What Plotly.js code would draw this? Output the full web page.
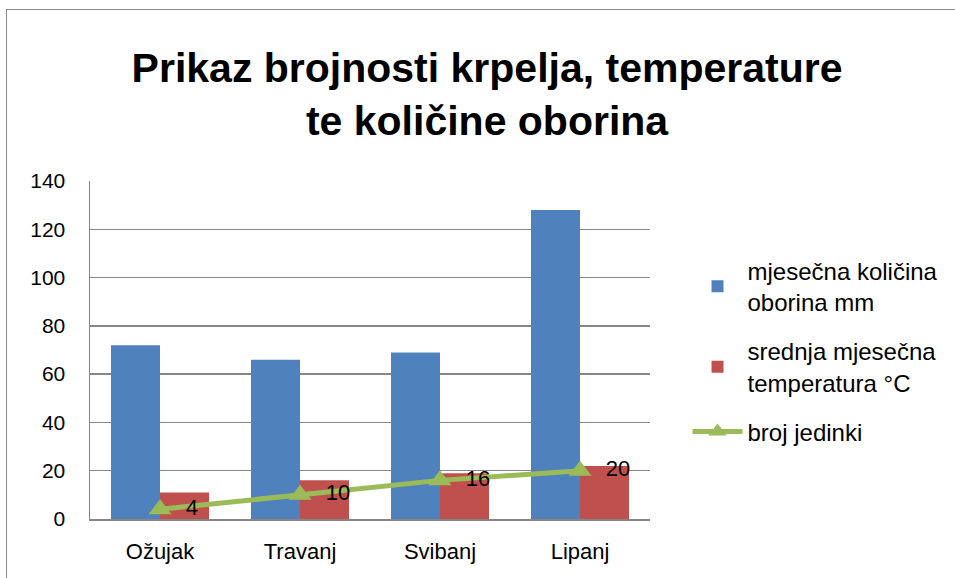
<!DOCTYPE html>
<html>
<head>
<meta charset="utf-8">
<script src="https://cdn.plot.ly/plotly-3.0.1.min.js"></script>
<style>
html,body{margin:0;padding:0;background:#fff;}
#frame{position:absolute;left:6px;top:9px;width:960px;height:580px;border-left:1.5px solid #888;border-top:1.5px solid #888;}
#chart{position:absolute;left:0;top:0;width:955px;height:578px;}
</style>
</head>
<body>
<div id="frame"></div>
<div id="chart"></div>
<script>
const months = ["Ožujak", "Travanj", "Svibanj", "Lipanj"];
const oborine = [72, 66, 69, 128];
const temperatura = [11, 16, 19, 22];
const jedinke = [4, 10, 16, 20];
const seriesNames = ["mjesečna količina<br>oborina mm", "srednja mjesečna<br>temperatura °C", "broj jedinki"];

const font = "Liberation Sans, Arial, sans-serif";

const traces = [
  {type: "bar", x: months, y: oborine, name: seriesNames[0], legendgroup: "a", marker: {color: "#4F81BD"}},
  {type: "bar", x: months, y: temperatura, name: seriesNames[1], legendgroup: "b", marker: {color: "#C0504D"}},
  {type: "scatter", mode: "lines+markers+text", x: months, y: jedinke, name: seriesNames[2], legendgroup: "c",
   line: {color: "#9BBB59", width: 5},
   marker: {symbol: "triangle-up", size: 20, color: "#9BBB59"},
   text: jedinke.map(v => "  " + v), textposition: "middle right",
   textfont: {size: 22, color: "#000", family: font}}
];

const layout = {
  width: 955, height: 578,
  paper_bgcolor: "rgba(0,0,0,0)", plot_bgcolor: "rgba(0,0,0,0)",
  font: {family: font, color: "#000", size: 21},
  title: {text: "<b>Prikaz brojnosti krpelja, temperature<br>te količine oborina</b>",
          font: {size: 41, family: font, color: "#000"}, x: 0.51, xanchor: "center", y: 0.858, yanchor: "top"},
  margin: {l: 90, r: 301, t: 181, b: 59},
  barmode: "group", bargap: 0.3, bargroupgap: 0,
  xaxis: {showline: true, linecolor: "#868686", linewidth: 1.5, ticks: "", tickfont: {size: 22},
          ticklabelstandoff: 12, fixedrange: true},
  yaxis: {range: [0, 140], dtick: 20, showgrid: true, gridcolor: "#868686", gridwidth: 1.5,
          showline: true, linecolor: "#868686", linewidth: 1.5, zeroline: false, ticks: "",
          tickfont: {size: 21}, ticklabelstandoff: 19, fixedrange: true},
  showlegend: true,
  legend: {x: 1.067, xanchor: "left", y: 0.80, yanchor: "top", font: {size: 24},
           tracegroupgap: 15, itemwidth: 50, bgcolor: "rgba(0,0,0,0)", traceorder: "grouped"}
};

Plotly.newPlot("chart", traces, layout, {displayModeBar: false, staticPlot: true});
</script>
</body>
</html>
